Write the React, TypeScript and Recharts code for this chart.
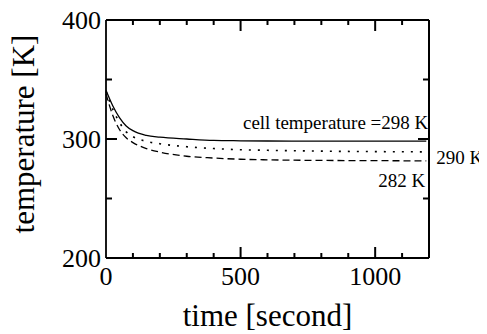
import { LineChart, Line, XAxis, YAxis, ReferenceDot, ReferenceLine } from 'recharts';

const times = [0, 25, 50, 75, 100, 150, 200, 300, 400, 500, 600, 800, 1000, 1190];
const cell298 = [341, 328, 318, 311, 307, 303, 301.5, 300, 298.8, 298.5, 298.3, 298.2, 298.2, 298.2];
const cell290 = [340, 325, 314, 306, 302, 298, 296, 293.5, 292, 291, 290.5, 289.8, 289.4, 289.2];
const cell282 = [338, 320, 308, 301, 297, 292, 289, 285.5, 284, 283, 282.5, 282, 281.8, 281.6];

const xTicks = [0, 100, 200, 300, 400, 500, 600, 700, 800, 900, 1000, 1100, 1200];
const xLabels = [0, 500, 1000];
const yTicks = [200, 250, 300, 350, 400];
const yLabels = [200, 300, 400];

const data = times.map((t, i) => ({ t, a: cell298[i], b: cell290[i], c: cell282[i] }));

const FONT = 'Liberation Serif';
const INK = '#000';
const W = 487;
const H = 334;
const M = { top: 20, right: 58, left: 0, bottom: 0 };
const Y_AXIS_W = 106;
const X_AXIS_H = 76;
const PLOT_W = W - M.right - Y_AXIS_W;
const PLOT_H = H - M.top - X_AXIS_H;

// bottom ticks, mirrored on the top edge
const BottomTick = (props: any) => {
  const { x, y, payload } = props;
  const v = payload.value;
  const len = v % 500 === 0 ? 11 : 5;
  const inner = v !== 0 && v !== 1200;
  return (
    <g>
      {inner && <path d={`M${x},${y}V${y - len}`} stroke={INK} strokeWidth={2} fill="none" />}
      {inner && <path d={`M${x},${y - PLOT_H}V${y - PLOT_H + len}`} stroke={INK} strokeWidth={2} fill="none" />}
      {xLabels.includes(v) && (
        <text x={x} y={y + 27} textAnchor="middle" fontSize={26} fontFamily={FONT} fill={INK}>
          {v}
        </text>
      )}
    </g>
  );
};

// left ticks, mirrored on the right edge
const LeftTick = (props: any) => {
  const { x, y, payload } = props;
  const v = payload.value;
  const len = v % 100 === 0 ? 11 : 6;
  const inner = v !== 200 && v !== 400;
  return (
    <g>
      {inner && <path d={`M${x},${y}H${x + len}`} stroke={INK} strokeWidth={2} fill="none" />}
      {inner && <path d={`M${x + PLOT_W},${y}H${x + PLOT_W - len}`} stroke={INK} strokeWidth={2} fill="none" />}
      {yLabels.includes(v) && (
        <text x={x - 5} y={y + 9} textAnchor="end" fontSize={26} fontFamily={FONT} fill={INK}>
          {v}
        </text>
      )}
    </g>
  );
};

const noteLabel = (text: string, dx: number, dy: number, anchor: string) => (p: any) => {
  const { viewBox } = p;
  return (
    <text x={viewBox.x + dx} y={viewBox.y + dy} textAnchor={anchor} fontSize={19} fontFamily={FONT} fill={INK}>
      {text}
    </text>
  );
};

const XTitle = (p: any) => {
  const { viewBox } = p;
  return (
    <text x={viewBox.x + viewBox.width / 2} y={viewBox.y + 68} textAnchor="middle" fontSize={31} fontFamily={FONT} fill={INK}>
      time [second]
    </text>
  );
};

const YTitle = (p: any) => {
  const { viewBox } = p;
  const cx = viewBox.x + 34;
  const cy = viewBox.y + viewBox.height / 2 - 5;
  return (
    <text x={cx} y={cy} transform={`rotate(-90, ${cx}, ${cy})`} textAnchor="middle" fontSize={31} fontFamily={FONT} fill={INK}>
      temperature [K]
    </text>
  );
};

export default function App() {
  return (
    <div style={{ width: W, height: H, background: '#fff', margin: '-8px 0 0 -8px' }}>
      <LineChart width={W} height={H} data={data} margin={M}>
        <XAxis
          dataKey="t"
          type="number"
          domain={[0, 1200]}
          ticks={xTicks}
          interval={0}
          tickSize={0}
          tickMargin={0}
          tick={<BottomTick />}
          axisLine={{ stroke: INK, strokeWidth: 1.8 }}
          height={X_AXIS_H}
          label={{ content: XTitle }}
        />
        <YAxis
          type="number"
          domain={[200, 400]}
          ticks={yTicks}
          interval={0}
          tickSize={0}
          tickMargin={0}
          tick={<LeftTick />}
          axisLine={{ stroke: INK, strokeWidth: 1.8 }}
          width={Y_AXIS_W}
          label={{ content: YTitle }}
        />
        {/* top and right edges of the frame */}
        <ReferenceLine y={400} stroke={INK} strokeWidth={2} />
        <ReferenceLine x={1200} stroke={INK} strokeWidth={2} />
        <Line dataKey="a" type="monotone" stroke={INK} strokeWidth={1.3} dot={false} isAnimationActive={false} />
        <Line dataKey="b" type="monotone" stroke={INK} strokeWidth={1.6} strokeDasharray="2 7" dot={false} isAnimationActive={false} />
        <Line dataKey="c" type="monotone" stroke={INK} strokeWidth={1.3} strokeDasharray="7 4" dot={false} isAnimationActive={false} />
        <ReferenceDot x={1190} y={298} r={0} fill="none" stroke="none" label={{ content: noteLabel('cell temperature =298 K', 2, -12, 'end') }} />
        <ReferenceDot x={1190} y={290} r={0} fill="none" stroke="none" label={{ content: noteLabel('290 K', 10, 13, 'start') }} />
        <ReferenceDot x={1190} y={282} r={0} fill="none" stroke="none" label={{ content: noteLabel('282 K', -1, 27, 'end') }} />
      </LineChart>
    </div>
  );
}
